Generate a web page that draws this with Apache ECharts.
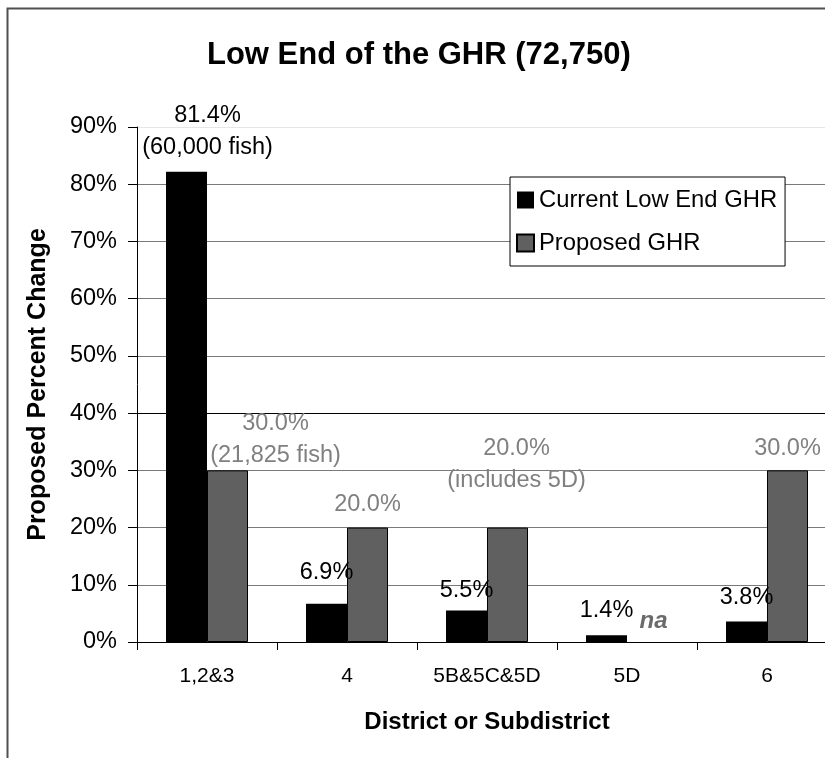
<!DOCTYPE html>
<html>
<head>
<meta charset="utf-8">
<script src="https://cdn.jsdelivr.net/npm/echarts@6/dist/echarts.min.js"></script>
<style>
  html, body { margin: 0; padding: 0; background: #fff; overflow: hidden; }
  #main { width: 850px; height: 758px; }
</style>
</head>
<body>
<div id="main"></div>
<script>
// data
const categories = ['1,2&3', '4', '5B&5C&5D', '5D', '6'];
const currentValues = [82.2, 6.7, 5.5, 1.2, 3.6];
const proposedValues = [30, 20, 20, 0, 30];
const currentLabels = ['81.4%\n(60,000 fish)', '6.9%', '5.5%', '1.4%', '3.8%'];
const proposedLabels = ['30.0%\n(21,825 fish)', '20.0%', '20.0%\n(includes 5D)', 'na', '30.0%'];
const yTicks = [0, 10, 20, 30, 40, 50, 60, 70, 80, 90];

// label placement tweaks [dx, dy]
const currentOffsets = [[21, -8], [0, -15], [0, -4], [0, -9], [0, -8]];
const proposedOffsets = [[48, 1], [0, -7], [9, -31], [6, -5], [0, -6]];

const font = 'Liberation Sans, Arial, sans-serif';

let chartDom = document.getElementById('main');
let myChart = echarts.init(chartDom, null, { renderer: 'canvas' });

const currentData = currentValues.map((v, i) => ({
    value: v,
    label: { formatter: currentLabels[i], offset: currentOffsets[i] }
}));
const proposedData = proposedValues.map((v, i) => {
    let item = {
        value: v,
        label: { formatter: proposedLabels[i], offset: proposedOffsets[i] }
    };
    if (proposedLabels[i] === 'na') {
        item.itemStyle = { borderWidth: 0 };
        item.label.fontWeight = 'bold';
        item.label.fontStyle = 'italic';
        item.label.fontSize = 24;
        item.label.color = '#6a6a6a';
    }
    return item;
});

// grid lines: 40% is darker, top one faint
const gridColors = yTicks.map(t => t === 40 ? '#000000' : (t === 90 ? '#e6e6e6' : '#7a7a7a'));

let option = {
    backgroundColor: '#ffffff',
    textStyle: { fontFamily: font },
    graphic: [{
        type: 'rect',
        left: 5, top: 6,
        shape: { width: 900, height: 900 },
        style: { fill: 'none', stroke: '#505050', lineWidth: 2 },
        silent: true
    }],
    title: {
        text: 'Low End of the GHR (72,750)',
        left: 207,
        top: 40,
        padding: 0,
        textStyle: { fontFamily: font, fontSize: 31, fontWeight: 'bold', color: '#000' }
    },
    legend: {
        orient: 'vertical',
        left: 510,
        top: 177,
        padding: [11, 8, 11, 6],
        itemGap: 19,
        itemWidth: 17,
        itemHeight: 17,
        icon: 'rect',
        backgroundColor: '#fff',
        borderColor: '#000',
        borderWidth: 1,
        borderRadius: 0,
        textStyle: { fontFamily: font, fontSize: 23.8, color: '#000' },
        data: ['Current Low End GHR', 'Proposed GHR']
    },
    grid: { left: 137, top: 127, width: 700, height: 515 },
    xAxis: {
        type: 'category',
        data: categories,
        name: 'District or Subdistrict',
        nameLocation: 'middle',
        nameGap: 68,
        nameTextStyle: { fontFamily: font, fontSize: 24, fontWeight: 'bold', color: '#000' },
        axisLine: { lineStyle: { color: '#000', width: 1 } },
        axisTick: { show: true, length: 8, lineStyle: { color: '#000', width: 1 } },
        axisLabel: { interval: 0, margin: 24, fontFamily: font, fontSize: 21, color: '#000' }
    },
    yAxis: {
        type: 'value',
        min: 0,
        max: 90,
        interval: 10,
        name: 'Proposed Percent Change',
        nameLocation: 'middle',
        nameGap: 86,
        nameTextStyle: { fontFamily: font, fontSize: 25, fontWeight: 'bold', color: '#000' },
        axisLine: { show: true, lineStyle: { color: '#000', width: 1 } },
        axisTick: { show: true, length: 9, lineStyle: { color: '#000' } },
        axisLabel: { margin: 20, padding: [10, 0, 0, 0], formatter: '{value}%', fontFamily: font, fontSize: 23.5, color: '#000' },
        splitLine: { show: true, lineStyle: { color: gridColors, width: 1 } }
    },
    series: [
        {
            name: 'Current Low End GHR',
            type: 'bar',
            barWidth: 41,
            barGap: '0%',
            data: currentData,
            itemStyle: { color: '#000000' },
            label: {
                show: true,
                position: 'top',
                distance: 0,
                fontFamily: font,
                fontSize: 23.5,
                lineHeight: 32,
                color: '#000'
            }
        },
        {
            name: 'Proposed GHR',
            type: 'bar',
            barWidth: 41,
            barGap: '0%',
            data: proposedData,
            itemStyle: { color: '#606060', borderColor: '#000', borderWidth: 1 },
            label: {
                show: true,
                position: 'top',
                distance: 0,
                fontFamily: font,
                fontSize: 23.5,
                lineHeight: 32,
                color: '#808080'
            }
        }
    ]
};
option && myChart.setOption(option);
</script>
</body>
</html>
